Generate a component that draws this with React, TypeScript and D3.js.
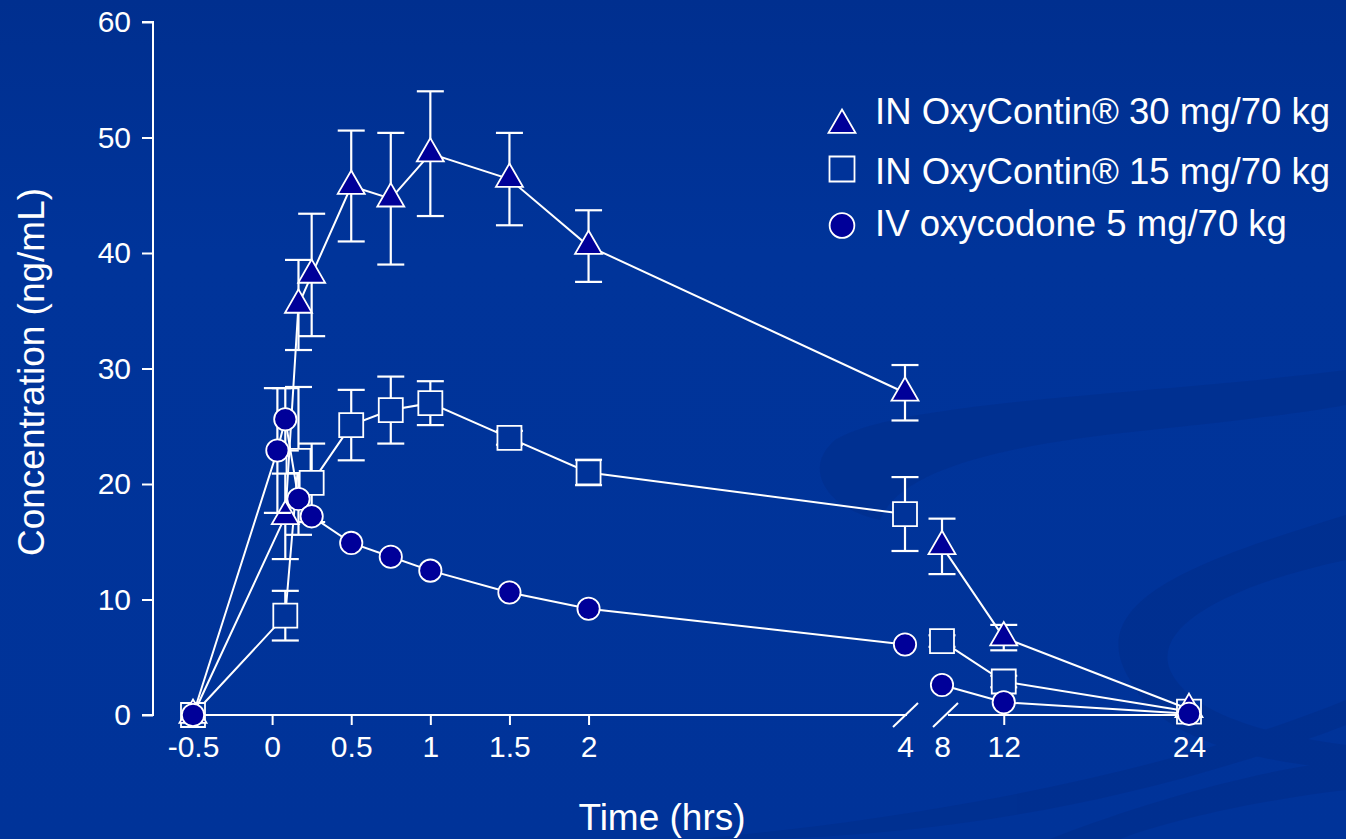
import * as d3 from "d3";
import React, { useRef, useEffect } from "react";

// sampling times (hrs); IV arm has an extra 2 min sample
const inTimes = [-0.5, 5 / 60, 10 / 60, 15 / 60, 0.5, 0.75, 1, 1.5, 2, 4, 8, 12, 24];
const ivTimes = [-0.5, 2 / 60, 5 / 60, 10 / 60, 15 / 60, 0.5, 0.75, 1, 1.5, 2, 4, 8, 12, 24];

// IN OxyContin 30 mg/70 kg
const in30Mean = [0, 17.2, 35.5, 38.1, 45.8, 44.7, 48.6, 46.4, 40.6, 27.9, 14.6, 6.7, 0.5];
const in30Sd = [0, 3.7, 3.9, 5.3, 4.8, 5.7, 5.4, 4.0, 3.1, 2.4, 2.4, 1.1, 0];
// IN OxyContin 15 mg/70 kg
const in15Mean = [0, 8.6, 22.0, 20.1, 25.1, 26.4, 27.0, 24.0, 21.0, 17.4, 6.4, 2.9, 0.3];
const in15Sd = [0, 2.15, 6.4, 3.4, 3.05, 2.9, 1.9, 0.6, 1.1, 3.2, 0.5, 0.5, 0];
// IV oxycodone 5 mg/70 kg
const ivMean = [0, 22.9, 25.6, 18.7, 17.2, 14.9, 13.7, 12.5, 10.6, 9.2, 6.1, 2.6, 1.1, 0.1];
const ivSd = [0, 5.4, 2.7, 0, 0, 0, 0, 0, 0, 0, 0, 0, 0, 0];

const xTicks = [-0.5, 0, 0.5, 1, 1.5, 2, 4, 8, 12, 24];
const yTicks = [0, 10, 20, 30, 40, 50, 60];
const legendLabels = [
  "IN OxyContin® 30 mg/70 kg",
  "IN OxyContin® 15 mg/70 kg",
  "IV oxycodone 5 mg/70 kg",
];

const W = 1346;
const H = 839;
const BG = "#003399";
const MARK = "#000099";
const FONT = "'Liberation Sans', Arial, sans-serif";

const App: React.FC = () => {
  const svgRef = useRef<SVGSVGElement | null>(null);

  useEffect(() => {
    const svg = d3.select(svgRef.current).attr("width", W).attr("height", H);
    svg.selectAll("*").remove();

    // background + faint swirls
    const defs = svg.append("defs");
    const grad = defs.append("linearGradient").attr("id", "bg").attr("x1", 0).attr("y1", 0).attr("x2", 0).attr("y2", 1);
    grad.append("stop").attr("offset", "0%").attr("stop-color", "#002f8f");
    grad.append("stop").attr("offset", "30%").attr("stop-color", "#00349a");
    grad.append("stop").attr("offset", "100%").attr("stop-color", "#003399");
    svg.append("rect").attr("width", W).attr("height", H).attr("fill", "url(#bg)");

    const swirl = svg.append("g").attr("fill", "#002d8a").attr("opacity", 0.55);
    swirl.append("path")
      .attr("d", "M1346,370 C1150,395 900,400 835,440 C800,470 830,510 880,520 C900,470 1000,445 1150,430 C1250,420 1320,410 1346,405 Z");
    swirl.append("path")
      .attr("d", "M1346,515 C1200,560 1080,600 1130,680 C1160,740 1250,760 1346,770 L1346,745 C1270,735 1190,715 1170,670 C1150,620 1250,580 1346,560 Z");
    swirl.append("path")
      .attr("d", "M700,839 C900,820 1150,780 1346,700 L1346,725 C1150,800 950,835 760,839 Z");
    swirl.append("path")
      .attr("d", "M1050,839 C1150,800 1260,770 1346,760 L1346,790 C1260,800 1170,820 1120,839 Z");

    // scales - broken time axis between 4 and 8 hrs
    const x = d3.scaleLinear().domain([-0.5, 4, 8, 24]).range([193, 905, 942, 1189]);
    const y = d3.scaleLinear().domain([0, 60]).range([715, 22]);

    // y axis
    const yAxis = svg.append("g")
      .attr("transform", `translate(153,0)`)
      .call(d3.axisLeft(y).tickValues(yTicks).tickSize(11).tickPadding(11).tickFormat(d3.format("d")));
    yAxis.select(".domain").attr("stroke", "#fff").attr("stroke-width", 2).attr("d", `M-11,${y(60)}H0V${y(0)}H-11`);
    yAxis.selectAll(".tick line").attr("stroke", "#fff").attr("stroke-width", 2);
    yAxis.selectAll(".tick text").attr("fill", "#fff").style("font-size", "30px").style("font-family", FONT);

    // x axis
    const xAxis = svg.append("g")
      .attr("transform", `translate(0,${y(0)})`)
      .call(d3.axisBottom(x).tickValues(xTicks).tickSize(10).tickPadding(11).tickFormat((d) => String(d)));
    xAxis.select(".domain").remove();
    xAxis.selectAll<SVGLineElement, number>(".tick line")
      .attr("stroke", "#fff").attr("stroke-width", 2)
      .attr("opacity", (d) => (d === 4 || d === 8 ? 0 : 1));
    xAxis.selectAll(".tick text").attr("fill", "#fff").style("font-size", "30px").style("font-family", FONT);
    const ax = xAxis.append("g").attr("stroke", "#fff").attr("stroke-width", 2);
    ax.append("line").attr("x1", x(-0.5)).attr("x2", x(4) + 2).attr("y1", 0).attr("y2", 0);
    ax.append("line").attr("x1", x(8) + 6).attr("x2", x(24)).attr("y1", 0).attr("y2", 0);
    ax.append("line").attr("x1", x(4) - 12).attr("y1", 12).attr("x2", x(4) + 13).attr("y2", -12);
    ax.append("line").attr("x1", x(8) - 9).attr("y1", 12).attr("x2", x(8) + 16).attr("y2", -12);

    // axis titles
    svg.append("text")
      .attr("transform", `translate(44,372) rotate(-90)`)
      .attr("text-anchor", "middle")
      .attr("fill", "#fff")
      .style("font-size", "37px").style("font-family", FONT)
      .text("Concentration (ng/mL)");
    svg.append("text")
      .attr("x", 662).attr("y", 830)
      .attr("text-anchor", "middle")
      .attr("fill", "#fff")
      .style("font-size", "37px").style("font-family", FONT)
      .text("Time (hrs)");

    const triangle = d3.symbol().type(d3.symbolTriangle).size(315);
    const square = d3.symbol().type(d3.symbolSquare).size(576);
    const circle = d3.symbol().type(d3.symbolCircle).size(390);

    const series = [
      { t: inTimes, m: in15Mean, sd: in15Sd, sym: square, fill: BG },
      { t: inTimes, m: in30Mean, sd: in30Sd, sym: triangle, fill: MARK },
      { t: ivTimes, m: ivMean, sd: ivSd, sym: circle, fill: MARK },
    ];

    const line = d3.line<[number, number]>().x((d) => x(d[0])).y((d) => y(d[1]));

    series.forEach((s) => {
      const pts: [number, number][] = s.t.map((t, i) => [t, s.m[i]]);
      const g = svg.append("g");
      // line is broken at the axis break
      [pts.filter((p) => p[0] <= 4), pts.filter((p) => p[0] >= 8)].forEach((seg) => {
        g.append("path").attr("d", line(seg)).attr("fill", "none").attr("stroke", "#fff").attr("stroke-width", 2);
      });
      const eb = g.append("g").attr("stroke", "#fff").attr("stroke-width", 2.2);
      pts.forEach((p, i) => {
        const sd = s.sd[i];
        if (!sd) return;
        const cx = x(p[0]);
        eb.append("line").attr("x1", cx).attr("x2", cx).attr("y1", y(p[1] + sd)).attr("y2", y(p[1] - sd));
        eb.append("line").attr("x1", cx - 13.5).attr("x2", cx + 13.5).attr("y1", y(p[1] + sd)).attr("y2", y(p[1] + sd));
        eb.append("line").attr("x1", cx - 13.5).attr("x2", cx + 13.5).attr("y1", y(p[1] - sd)).attr("y2", y(p[1] - sd));
      });
      g.selectAll("path.mk")
        .data(pts)
        .enter()
        .append("path")
        .attr("class", "mk")
        .attr("d", s.sym() as string)
        .attr("transform", (d) => `translate(${x(d[0])},${y(d[1])})`)
        .attr("fill", s.fill)
        .attr("stroke", "#fff")
        .attr("stroke-width", 1.8);
    });

    // legend
    const leg = svg.append("g");
    const legSyms = [
      { sym: d3.symbol().type(d3.symbolTriangle).size(315), fill: MARK, yy: 125 },
      { sym: d3.symbol().type(d3.symbolSquare).size(625), fill: BG, yy: 169 },
      { sym: d3.symbol().type(d3.symbolCircle).size(480), fill: MARK, yy: 225.5 },
    ];
    legSyms.forEach((l, i) => {
      leg.append("path")
        .attr("d", l.sym() as string)
        .attr("transform", `translate(842,${l.yy})`)
        .attr("fill", l.fill).attr("stroke", "#fff").attr("stroke-width", 1.8);
      leg.append("text")
        .attr("x", 875).attr("y", [124, 184, 236][i])
        .attr("fill", "#fff")
        .style("font-size", "36.5px").style("font-family", FONT)
        .text(legendLabels[i]);
    });
  }, []);

  return <svg ref={svgRef} style={{ position: "absolute", left: 0, top: 0, display: "block" }} />;
};

export default App;
